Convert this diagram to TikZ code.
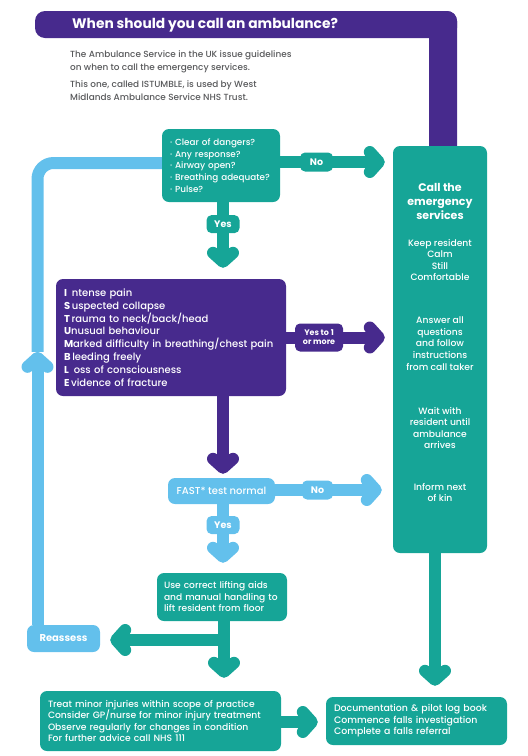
\documentclass[tikz,border=0pt]{standalone}
\usepackage{fontspec}
\setmainfont{Poppins}[UprightFont={* Medium}, BoldFont={* Bold}]
\usetikzlibrary{arrows.meta,calc}
\definecolor{teal1}{HTML}{16A597}
\definecolor{purp}{HTML}{472A8D}
\definecolor{lblue}{HTML}{63C0EC}
\definecolor{gtext}{HTML}{58595B}
\tikzset{
  box/.style={rounded corners=7pt, inner sep=0pt, text=white, align=left},
  ctext/.style={text=white, align=center, inner sep=0pt, font=\fontsize{9.2}{11.6}\selectfont},
  arr/.style={line width=12pt, -{Straight Barb[length=9pt,width=20pt,round]}},
  lbl/.style={rounded corners=5pt, text=white, font=\bfseries\fontsize{9.5}{9.5}\selectfont, inner sep=0pt, minimum height=19pt, align=center},
}
\begin{document}
\begin{tikzpicture}[x=1pt,y=-1pt]
\useasboundingbox (0,0) rectangle (528,756);
% title band
\fill[purp, rounded corners=10pt] (35,11) rectangle (457,38);
\fill[purp, rounded corners=10pt] (429,11) rectangle (457,160);
\node[anchor=west, text=white, inner sep=0pt, font=\bfseries\fontsize{13.8}{14}\selectfont] (title) at (72,25) {When should you call an ambulance?};
\node[anchor=north west, text=gtext, inner sep=0pt, align=left, font=\fontsize{8.9}{13.5}\selectfont] (intro1) at (70,50) {The Ambulance Service in the UK issue guidelines\\on when to call the emergency services.};
\node[anchor=north west, text=gtext, inner sep=0pt, align=left, font=\fontsize{8.9}{13}\selectfont] (intro2) at (70,80) {This one, called ISTUMBLE, is used by West\\Midlands Ambulance Service NHS Trust.};

% boxes
\node[box, fill=teal1, minimum width=118pt, minimum height=73pt, text width=102pt, font=\fontsize{8.8}{11.7}\selectfont] (top) at (221,165.5)
  {· Clear of dangers?\\· Any response?\\· Airway open?\\· Breathing adequate?\\· Pulse?};
\node[box, fill=teal1, minimum width=94pt, minimum height=407pt] (call) at (440,349.5) {};
\node[ctext, font=\bfseries\fontsize{11}{14}\selectfont] (callt) at (440,201) {Call the\\emergency\\services};
\node[ctext] (keep) at (440,260) {Keep resident\\Calm\\Still\\Comfortable};
\node[ctext] (answer) at (440,343.5) {Answer all\\questions\\and follow\\instructions\\from call taker};
\node[ctext] (wait) at (440,428) {Wait with\\resident until\\ambulance\\arrives};
\node[ctext] (inform) at (440,492.5) {Inform next\\of kin};
\node[box, fill=purp, minimum width=230pt, minimum height=117pt, text width=214pt, font=\fontsize{10}{12.8}\selectfont] (istumble) at (171,337.5)
  {\textbf{I}\, ntense pain\\\textbf{S}\,uspected collapse\\\textbf{T}\,rauma to neck/back/head\\\textbf{U}nusual behaviour\\\textbf{M}arked difficulty in breathing/chest pain\\\textbf{B}\,leeding freely\\\textbf{L}\, oss of consciousness\\\textbf{E}\,vidence of fracture};
\node[box, fill=lblue, minimum width=107pt, minimum height=26pt, align=center, font=\fontsize{10}{10}\selectfont] (fast) at (221.5,491) {FAST* test normal};
\node[box, fill=teal1, minimum width=130pt, minimum height=48pt, text width=116pt, font=\fontsize{9.1}{11.5}\selectfont] (use) at (222,597)
  {Use correct lifting aids\\and manual handling to\\lift resident from floor};
\node[box, fill=lblue, minimum width=73pt, minimum height=27pt, align=center, font=\bfseries\fontsize{10}{10}\selectfont] (reassess) at (63.5,638.5) {Reassess};
\node[box, fill=teal1, minimum width=241pt, minimum height=60pt, text width=225pt, font=\fontsize{9.2}{11.5}\selectfont] (treat) at (160.5,721)
  {Treat minor injuries within scope of practice\\Consider GP/nurse for minor injury treatment\\Observe regularly for changes in condition\\For further advice call NHS 111};
\node[box, fill=teal1, minimum width=181pt, minimum height=48pt, text width=165pt, font=\fontsize{9.4}{11.5}\selectfont] (doc) at (416.5,721)
  {Documentation \& pilot log book\\Commence falls investigation\\Complete a falls referral};

% connectors
\draw[arr, teal1, shorten >=8pt] ([yshift=3.5pt]top.east) -- ([yshift=3.5pt]top.east -| call.west)
  node[lbl, fill=teal1, minimum width=33pt, pos=0.323] (no1) {No};
\draw[arr, teal1, shorten >=11pt] ([xshift=2pt]top.south) -- ([xshift=2pt]top.south |- istumble.north)
  node[lbl, fill=teal1, minimum width=33pt, minimum height=18pt, pos=0.286] (yes1) {Yes};
\draw[arr, purp, shorten >=8pt] (istumble.east) -- (istumble.east -| call.west)
  node[lbl, fill=purp, minimum width=48pt, minimum height=28pt, font=\bfseries\fontsize{8}{9}\selectfont, pos=0.308] (yes2) {Yes to 1\\or more};
\draw[arr, purp, shorten >=4pt] ([xshift=52pt]istumble.south) -- ([xshift=52pt]istumble.south |- fast.north);
\draw[arr, lblue, shorten >=11pt] ([yshift=1pt]fast.east) -- ([yshift=1pt]fast.east -| call.west)
  node[lbl, fill=lblue, minimum width=31pt, pos=0.36] (no2) {No};
\draw[arr, lblue, shorten >=10pt] ([xshift=1.5pt]fast.south) -- ([xshift=1.5pt]fast.south |- use.north)
  node[lbl, fill=lblue, minimum width=33pt, minimum height=18pt, pos=0.304] (yes3) {Yes};
\draw[arr, teal1, shorten >=13pt] ([xshift=2pt]use.south) -- ([xshift=2pt]use.south |- treat.north);
\draw[arr, teal1, shorten >=10pt] ([xshift=2pt]use.south) |- ([yshift=-1.5pt]reassess.east);
% reassess loop
\coordinate (loopmid) at ([xshift=-26pt,yshift=273pt]reassess.north);
\draw[lblue, line width=12pt, rounded corners=16pt] (loopmid) |- ([yshift=2.5pt]top.west);
\draw[arr, lblue] ([xshift=-26pt]reassess.north) -- (loopmid);
\draw[arr, teal1, shorten >=11pt] ([xshift=-5pt]call.south) -- ([xshift=-5pt]call.south |- doc.north);
\draw[arr, teal1, shorten >=8pt] ([yshift=-1pt]treat.east) -- ([yshift=-1pt]treat.east -| doc.west);
\end{tikzpicture}
\end{document}
